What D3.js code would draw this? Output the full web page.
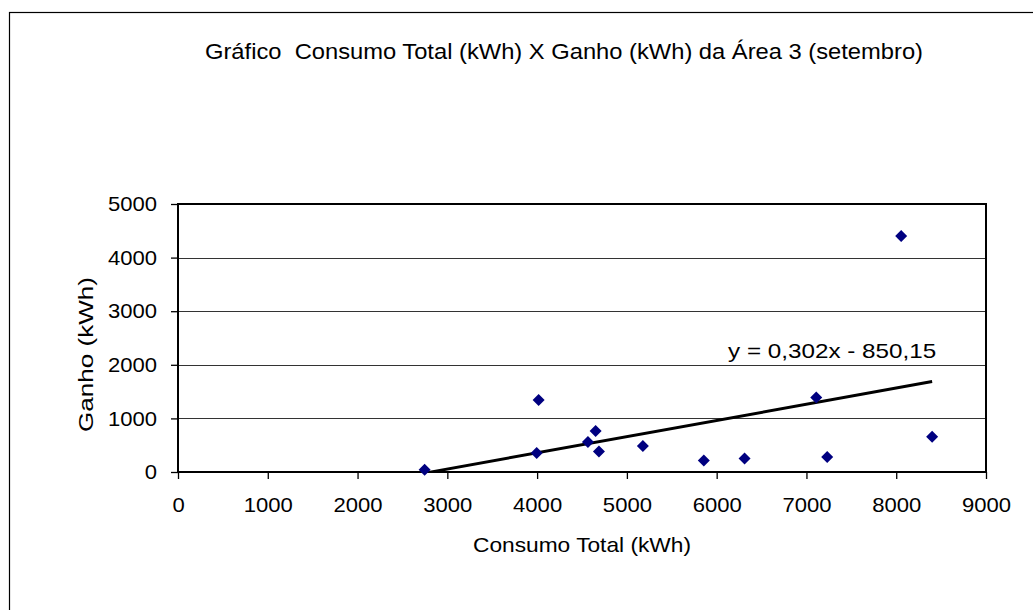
<!DOCTYPE html>
<html><head><meta charset="utf-8">
<script src="https://cdn.jsdelivr.net/npm/d3@7"></script>
<style>html,body{margin:0;padding:0;background:#fff;overflow:hidden;} svg{display:block;font-family:Arial,"Liberation Sans",sans-serif;}</style>
</head><body><svg id="c" width="1033" height="610"></svg>
<script>
// ---- data ----
const consumo = [2747, 3995, 4017, 4566, 4652, 4689, 5178, 5857, 6311, 7109, 7231, 8055, 8400];
const ganho   = [40, 354, 1342, 559, 764, 384, 485, 216, 254, 1391, 280, 4405, 658];
const xTicks = [0, 1000, 2000, 3000, 4000, 5000, 6000, 7000, 8000, 9000];
const yTicks = [0, 1000, 2000, 3000, 4000, 5000];
const trendSlope = 0.302;
const trendIntercept = -850.15;
const trendLabel = "y = 0,302x - 850,15";
const chartTitle = "Gráfico  Consumo Total (kWh) X Ganho (kWh) da Área 3 (setembro)";
const xTitle = "Consumo Total (kWh)";
const yTitle = "Ganho (kWh)";

// ---- layout ----
const W = 1033, H = 610;
const L = 178, R = 986, T = 204, B = 472;
const svg = d3.select("#c");

const x = d3.scaleLinear().domain([0, 9000]).range([L, R]);
const y = d3.scaleLinear().domain([0, 5000]).range([B, T]);

function stretch(sel, k) {
  sel.each(function () {
    const n = this.getComputedTextLength();
    d3.select(this).attr("textLength", n * k).attr("lengthAdjust", "spacingAndGlyphs");
  });
}

// outer border
svg.append("rect").attr("x", 9.5).attr("y", 12.5).attr("width", W + 50).attr("height", H + 50)
  .attr("fill", "#fff").attr("stroke", "#000").attr("stroke-width", 1.2);

// title
svg.append("text").attr("x", 564).attr("y", 59).attr("text-anchor", "middle")
  .style("white-space", "pre").attr("font-size", 21.5).attr("fill", "#000")
  .text(chartTitle).attr("textLength", 718).attr("lengthAdjust", "spacingAndGlyphs");

// gridlines
svg.append("g").selectAll("line").data(yTicks.filter(v => v > 0 && v < 5000)).join("line")
  .attr("x1", L).attr("x2", R).attr("y1", d => Math.round(y(d)) + 0.5).attr("y2", d => Math.round(y(d)) + 0.5)
  .attr("stroke", "#333").attr("stroke-width", 1);

// axes
const xAxis = svg.append("g").attr("transform", `translate(0,${B})`)
  .call(d3.axisBottom(x).tickValues(xTicks).tickSize(7).tickPadding(18).tickFormat(d3.format("d")));
const yAxis = svg.append("g").attr("transform", `translate(${L},0)`)
  .call(d3.axisLeft(y).tickValues(yTicks).tickSize(7).tickPadding(14).tickFormat(d3.format("d")));
[xAxis, yAxis].forEach(a => {
  a.select(".domain").remove();
  a.selectAll(".tick line").attr("stroke", "#000").attr("stroke-width", 1.3);
  a.selectAll("text").attr("font-size", 21).attr("font-family", "Arial, 'Liberation Sans', sans-serif").attr("fill", "#000");
});
stretch(xAxis.selectAll("text"), 1.05);
stretch(yAxis.selectAll("text"), 1.05);

// plot border
svg.append("rect").attr("x", L).attr("y", T).attr("width", R - L).attr("height", B - T)
  .attr("fill", "none").attr("stroke", "#000").attr("stroke-width", 2);

// clip
svg.append("clipPath").attr("id", "pc").append("rect").attr("x", L).attr("y", T).attr("width", R - L).attr("height", B - T);

// trendline
const tx0 = d3.min(consumo), tx1 = d3.max(consumo);
const trend = [tx0, tx1].map(v => [v, trendSlope * v + trendIntercept]);
svg.append("path").attr("clip-path", "url(#pc)")
  .attr("d", d3.line().x(d => x(d[0])).y(d => y(d[1]))(trend))
  .attr("stroke", "#000").attr("stroke-width", 3).attr("fill", "none");

// points
const pts = consumo.map((c, i) => ({ c, g: ganho[i] }));
svg.append("g").selectAll("path").data(pts).join("path")
  .attr("d", d3.symbol(d3.symbolSquare, 72)())
  .attr("transform", d => `translate(${x(d.c)},${y(d.g)}) rotate(45)`)
  .attr("fill", "#000080");

// trend label
svg.append("text").attr("x", x(tx1) + 4).attr("y", y(trend[1][1]) - 24).attr("text-anchor", "end")
  .attr("font-size", 21).attr("fill", "#000").style("white-space", "pre")
  .text(trendLabel).attr("textLength", 208).attr("lengthAdjust", "spacingAndGlyphs");

// axis titles
svg.append("text").attr("x", (L + R) / 2).attr("y", 552).attr("text-anchor", "middle")
  .attr("font-size", 21).attr("fill", "#000").text(xTitle)
  .attr("textLength", 218).attr("lengthAdjust", "spacingAndGlyphs");
svg.append("text").attr("transform", `translate(93,${(277 + 432) / 2}) rotate(-90)`).attr("text-anchor", "middle")
  .attr("font-size", 21).attr("fill", "#000").text(yTitle)
  .attr("textLength", 155).attr("lengthAdjust", "spacingAndGlyphs");
</script></body></html>
